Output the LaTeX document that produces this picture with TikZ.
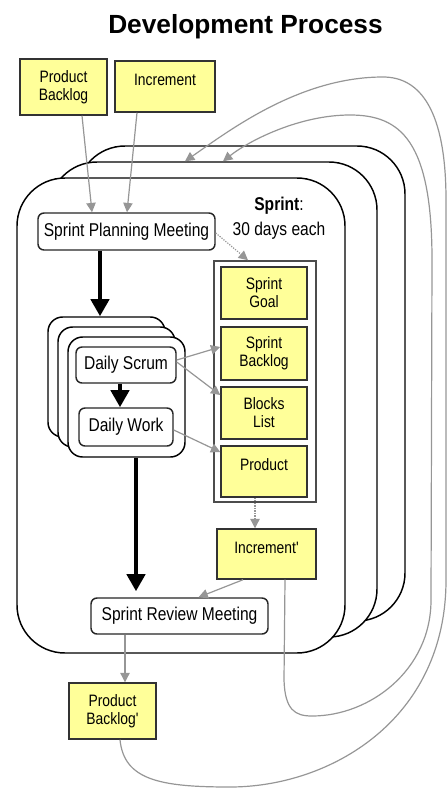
\documentclass[tikz,border=0pt]{standalone}
\usepackage{fontspec}
\setmainfont{Liberation Sans}[FakeStretch=0.84]
\newfontfamily\headfont{Liberation Sans}
\newfontfamily\quotefont{Liberation Sans}[FakeStretch=0.84]
\newcommand{\primemark}{{\quotefont'}}
\usetikzlibrary{arrows.meta,calc}
\definecolor{notefill}{RGB}{255,255,153}
\definecolor{link}{RGB}{150,150,150}
\begin{document}
\begin{tikzpicture}[x=0.75pt,y=-0.75pt,
  sz/.style 2 args={minimum width=#1*0.75pt,minimum height=#2*0.75pt},
  every node/.style={inner sep=0pt,font=\fontsize{13.9}{16}\selectfont},
  note/.style={draw=black!80,line width=1.1pt,fill=notefill,align=center,
    font=\fontsize{12.4}{13.5}\selectfont},
  meet/.style={draw=black!85,line width=1.1pt,fill=white,rounded corners=4.5pt},
  sprint/.style={draw=black,line width=1.1pt,fill=white,rounded corners=36pt,sz={328}{475}},
  daily/.style={draw=black,line width=1.1pt,fill=white,rounded corners=11pt,sz={117}{120}},
  flow/.style={line width=3.4pt,-{Triangle[length=12.8pt,width=13.5pt]}},
  feed/.style={draw=link,line width=0.9pt,-{Triangle[length=7pt,width=7pt]}},
  dotfeed/.style={feed,densely dotted},
]
\useasboundingbox (0,0) rectangle (447,789);

% title
\node[anchor=base,font=\headfont\bfseries\fontsize{19.7}{22}\selectfont] (title) at (245.5,33) {Development Process};

% stacked sprints
\node[sprint] (sback) at (241,383.5) {};
\node[sprint] (smid) at (213,399.5) {};
\node[sprint] (sfront) at (181,415.5) {};

% inputs
\node[note,sz={87}{56}] (pb) at (63.5,87) {Product\\Backlog};
\node[note,sz={100}{51},text depth=9.75pt] (inc) at (165,86.5) {Increment};

% planning
\node[meet,sz={177}{37}] (spm) at (126.5,231.5) {Sprint Planning Meeting};
\node[align=center,font=\fontsize{13.9}{18.75}\selectfont] (sprlabel) at (279,218) {\textbf{Sprint}:\\30 days each};

% artifacts
\node[draw=black!70,line width=1.2pt,fill=white,sz={102}{241}] (arts) at (265,381.5) {};
\node[note,sz={86}{52}] (sg) at (264,293) {Sprint\\Goal};
\node[note,sz={86}{53}] (sb) at (264,353.5) {Sprint\\Backlog};
\node[note,sz={86}{52}] (bl) at (264,413) {Blocks\\List};
\node[note,sz={86}{51},text depth=9.75pt] (prod) at (264,471.5) {Product};

% daily cycle
\node[daily] (dback) at (106.5,377) {};
\node[daily] (dmid) at (116.5,387) {};
\node[daily] (dfront) at (126.5,397) {};
\node[meet,sz={100}{36}] (ds) at (126,365) {Daily Scrum};
\node[meet,sz={94}{38}] (dw) at (126,427) {Daily Work};

% outputs
\node[note,sz={99}{50},text depth=9pt] (incp) at (266.5,554) {Increment\primemark};
\node[meet,sz={177}{36}] (srm) at (179.5,616) {Sprint Review Meeting};
\node[note,sz={87}{56}] (pbp) at (112.5,711) {Product\\Backlog\primemark};

% inputs into planning
\draw[feed] ($(pb.south)+(18.5,0)$) -- ($(spm.north)+(-34.5,0)$);
\draw[feed] ($(inc.south)+(-28,0)$) -- ($(spm.north)+(0.5,0)$);
\draw[dotfeed] ($(spm.east)+(0,1.5)$) -- ($(arts.north)+(-17,0)$);

% main flow
\draw[flow] ($(spm.south)+(-26.5,0)$) -- ($(dback.north)+(-6.5,0)$);
\draw[flow] ($(ds.south)+(-6,0)$) -- ($(dw.north)+(-6,0)$);
\draw[flow,shorten >=4.5pt] ($(dfront.south)+(9.5,0)$) -- ($(srm.north)+(-43.5,0)$);

% daily updates of artifacts
\draw[feed] ($(ds.east)+(0,-5)$) -- ($(sb.west)+(0,-6.5)$);
\draw[feed] ($(ds.east)+(0,-3)$) -- ($(bl.west)+(0,-18)$);
\draw[feed] ($(dw.east)+(0,3)$) -- ($(prod.west)+(0,-19.5)$);
\draw[dotfeed] ($(prod.south)+(-9,0)$) -- ($(incp.north)+(-11.5,0)$);

% review
\draw[feed] ($(incp.south)+(-23.5,0)$) -- ($(srm.north)+(19,0)$);
\draw[feed] ($(srm.south)+(-54.5,0)$) -- ($(pbp.north)+(12.5,0)$);

% feedback into the next sprint
\draw[feed] ($(incp.south)+(18.5,0)$) -- (284,680)
  .. controls (285,710) and (295,716) .. (312,716)
  .. controls (370,716) and (431,670) .. (431,600)
  -- (432,260)
  .. controls (432,140) and (400,115) .. (350,115)
  .. controls (300,115) and (250,140) .. ($(smid.north)+(10,0)$);
\draw[feed] ($(pbp.south)+(7.5,0)$)
  .. controls (124,780) and (160,787) .. (230,787)
  .. controls (330,787) and (446,720) .. (446,580)
  -- (446,200)
  .. controls (446,110) and (420,77) .. (383,77)
  .. controls (300,77) and (230,130) .. ($(smid.north)+(-28,0)$);
\end{tikzpicture}
\end{document}
